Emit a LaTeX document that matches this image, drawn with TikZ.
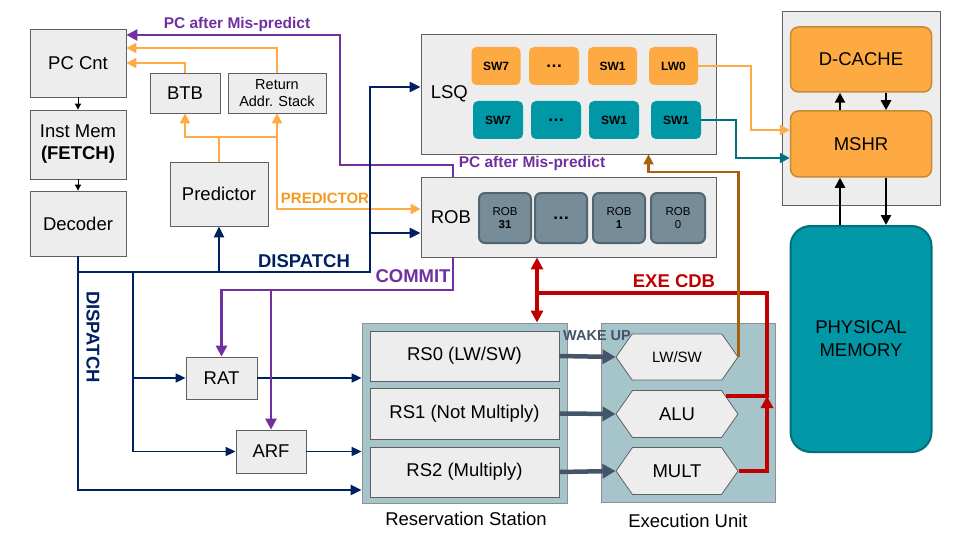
\documentclass[tikz,border=0pt]{standalone}
\usepackage{fontspec}
\setmainfont{Liberation Sans}
\usepackage{xcolor}
\usetikzlibrary{arrows.meta,positioning,calc,shapes.symbols}

\definecolor{boxgray}{HTML}{EDEDED}
\definecolor{edgegray}{HTML}{606060}
\definecolor{navy}{HTML}{002060}
\definecolor{mispurple}{HTML}{7030A0}
\definecolor{predorange}{HTML}{FFAA44}
\definecolor{predtext}{HTML}{F39A1E}
\definecolor{cdbred}{HTML}{C00000}
\definecolor{ldbrown}{HTML}{A8620F}
\definecolor{qorange}{HTML}{FDAA42}
\definecolor{qteal}{HTML}{0097A7}
\definecolor{tealline}{HTML}{00727E}
\definecolor{robslate}{HTML}{768C98}
\definecolor{robedge}{HTML}{536570}
\definecolor{unitbg}{HTML}{A5C5CB}
\definecolor{wakegray}{HTML}{44546A}
\definecolor{memedge}{HTML}{C88A35}
\definecolor{pmemedge}{HTML}{00707B}

\begin{document}
\begin{tikzpicture}[
  x=1pt, y=-1pt,
  font=\fontsize{18.5}{22}\selectfont,
  sz/.style 2 args={minimum width=#1pt, minimum height=#2pt, inner sep=0pt},
  box/.style={draw=edgegray, fill=boxgray, line width=0.8pt, align=center},
  unit/.style={draw=edgegray!70, fill=unitbg, line width=0.8pt},
  entry/.style={rounded corners=5pt, fill=#1, font=\fontsize{12}{14}\selectfont\bfseries},
  robent/.style={rounded corners=6pt, draw=robedge, fill=robslate, line width=2pt,
                 align=center, font=\fontsize{11.5}{13.5}\selectfont},
  mem/.style={rounded corners=8pt, draw=memedge, fill=qorange, line width=1.5pt},
  fu/.style={signal, signal to=east and west, signal pointer angle=110,
             draw=edgegray, fill=boxgray, line width=0.8pt},
  smallarr/.style={-{Triangle[length=6pt,width=6pt]}, line width=0.9pt},
  nvarr/.style={draw=navy, line width=2.6pt, -{Triangle[length=11pt,width=10pt]}},
  nvthin/.style={draw=navy, line width=1.7pt, -{Triangle[length=10pt,width=9pt]}},
  predarr/.style={draw=predorange, line width=2.2pt, -{Triangle[length=10pt,width=10pt]}},
  mparr/.style={draw=mispurple, line width=2.6pt, -{Triangle[length=11pt,width=11pt]}},
  cdbarr/.style={draw=cdbred, line width=3.2pt},
  ldarr/.style={draw=ldbrown, line width=2.2pt, -{Triangle[length=10pt,width=10pt]}},
  tlarr/.style={draw=tealline, line width=2.4pt, -{Triangle[length=10pt,width=10pt]}},
  wkarr/.style={draw=wakegray, line width=4.5pt, -{Triangle[length=13pt,width=14pt]}},
  memarr/.style={draw=black, line width=2.8pt, -{Triangle[length=10pt,width=10pt]}},
  lab/.style={font=\fontsize{15.5}{18}\selectfont\bfseries}
]
\useasboundingbox (0,0) rectangle (960,540);

% Front end
\node[box, sz={96}{68}] (pc) at (78,63) {PC Cnt};
\node[box, sz={96}{69}] (imem) at (78,144.5) {Inst Mem\\\textbf{(FETCH)}};
\node[box, sz={96}{65}] (dec) at (78,223.5) {Decoder};
\node[box, sz={70}{40}] (btb) at (185,93) {BTB};
\node[box, sz={98}{40}, font=\fontsize{14.5}{17.5}\selectfont] (ras) at (277,93) {Return\\Addr. Stack};
\node[box, sz={98}{64}] (pred) at (219,194) {Predictor};

% LSQ
\node[box, sz={295}{120}] (lsq) at (568.5,94) {};
\node[right=10pt of lsq.west, inner sep=0pt] (lsqlab) {LSQ};
\node[entry=qorange, sz={49}{38}] (lq1) at (496,66) {SW7};
\node[entry=qorange, sz={50}{38}] (lq2) at (554,66) {\fontsize{17}{17}\selectfont\dots};
\node[entry=qorange, sz={49}{38}] (lq3) at (612.5,66) {SW1};
\node[entry=qorange, sz={49}{38}] (lq4) at (673.5,66) {LW0};
\node[entry=qteal, sz={50}{38}] (sq1) at (498,120) {SW7};
\node[entry=qteal, sz={50}{38}] (sq2) at (556,120) {\fontsize{17}{17}\selectfont\dots};
\node[entry=qteal, sz={50}{38}] (sq3) at (614,120) {SW1};
\node[entry=qteal, sz={50}{38}] (sq4) at (676,120) {SW1};

% ROB
\node[box, sz={295}{80}] (rob) at (568.5,217) {};
\node[right=10pt of rob.west, inner sep=0pt] (roblab) {ROB};
\node[robent, sz={52}{50}] (re1) at (505,218) {ROB\\\textbf{31}};
\node[robent, sz={52}{50}, font=\fontsize{17}{17}\selectfont\bfseries] (re2) at (561,218) {\dots};
\node[robent, sz={52}{50}] (re3) at (619,218) {ROB\\\textbf{1}};
\node[robent, sz={54}{50}] (re4) at (678,218) {ROB\\0};

% Memory
\node[box, sz={158}{194}] (membox) at (861,108) {};
\node[mem, sz={141}{65}] (dcache) at (861,59.5) {D-CACHE};
\node[mem, sz={141}{66}] (mshr) at (861,144) {MSHR};
\node[sz={141}{226}, rounded corners=20pt, draw=pmemedge, fill=qteal, line width=2pt,
      align=center, font=\fontsize{18.5}{23}\selectfont] (pmem) at (861,339) {PHYSICAL\\MEMORY};

% Rename / register file
\node[box, sz={71}{42}] (rat) at (221.5,378) {RAT};
\node[box, sz={70}{43}] (arf) at (271,451.5) {ARF};

% Reservation station + execution
\node[unit, sz={205}{180}] (rs) at (464.5,413) {};
\node[box, sz={189}{50}] (rs0) at (464.5,356) {RS0 (LW/SW)};
\node[box, sz={189}{51}] (rs1) at (464.5,413.5) {RS1 (Not Multiply)};
\node[box, sz={189}{50}] (rs2) at (464.5,472) {RS2 (Multiply)};
\node (rslab) at (466,519) {Reservation Station};
\node[unit, sz={174}{179}] (eu) at (688,412.5) {};
\node[fu, sz={122}{46}, font=\fontsize{15}{18}\selectfont] (lwsw) at (677,357) {LW/SW};
\node[fu, sz={122}{47}] (alu) at (677,414) {ALU};
\node[fu, sz={122}{47}] (mult) at (677,471) {MULT};
\node (eulab) at (688,521) {Execution Unit};

% Labels
\node[lab, text=mispurple] (mplab1) at (237,24) {PC after Mis-predict};
\node[lab, text=mispurple] (mplab2) at (532,163) {PC after Mis-predict};
\node[lab, text=predtext, font=\fontsize{15}{18}\selectfont\bfseries] (predlab) at (325,198) {PREDICTOR};
\node[lab, text=navy, font=\fontsize{18.5}{22}\selectfont\bfseries] (dsplab) at (304,261) {DISPATCH};
\node[lab, text=navy, font=\fontsize{18.5}{22}\selectfont\bfseries, rotate=-90] (dsplab2) at (93,337) {DISPATCH};
\node[lab, text=mispurple, font=\fontsize{18.5}{22}\selectfont\bfseries] (commitlab) at (413,276) {COMMIT};
\node[lab, text=cdbred, font=\fontsize{18.5}{22}\selectfont\bfseries] (cdblab) at (674,281) {EXE CDB};
\node[lab, text=wakegray, font=\fontsize{14.5}{17}\selectfont\bfseries] (wakelab) at (597,336) {WAKE UP};

% Fetch path
\draw[smallarr] (pc) -- (imem);
\draw[smallarr] (imem) -- (dec);

% Branch prediction
\coordinate (pj) at (219,137);
\draw[predarr, -] (pred.north) -- (pj);
\draw[predarr] (pj) -| (btb.south);
\draw[predarr] (pj) -| (ras.south);
\draw[predarr] (ras.south |- pj) |- ([yshift=8pt]rob.west);
\draw[predarr] (btb.north) |- (pc.east);
\draw[predarr] (ras.north) |- ([yshift=15pt]pc.east);

% Mis-predict
\coordinate (mpj) at (340,165);
\draw[mparr] ([xshift=-115.5pt]rob.north) |- (mpj) |- ([yshift=28pt]pc.east);

% Dispatch
\coordinate (dbus) at (370,272);
\coordinate (rj) at (133,272);
\draw[nvarr] (dec.south) |- (dbus) |- ([yshift=7pt]lsq.west);
\draw[nvarr] (dbus |- 0,233) -- (rob.west |- 0,233);
\draw[nvarr] (pred.south |- dbus) -- (pred.south);
\draw[nvarr] (dec.south) |- (rs.west |- 0,490);
\draw[nvthin] (rj) |- (arf.west);
\draw[nvthin] (rj |- rat.west) -- (rat.west);
\draw[nvthin] (rat.east) -- (rs.west |- rat.east);
\draw[nvthin] (arf.east) -- (rs.west |- arf.east);

% Commit
\draw[mparr] ([xshift=-115.5pt]rob.south) |- (rat.north |- 0,290) -- (rat.north);
\draw[mparr] (arf.north |- 0,290) -- (arf.north);

% Wake up
\foreach \r/\f in {rs0/lwsw, rs1/alu, rs2/mult} {
  \draw[wkarr] (\r.east) -- (\f.west);
}

% CDB
\coordinate (cdb) at (537,293);
\coordinate (cdbr) at (767,396);
\draw[cdbarr, {Triangle[length=12pt,width=12pt]}-{Triangle[length=12pt,width=12pt]}]
  (cdb |- rob.south) -- (cdb |- rs.north);
\draw[cdbarr] (cdb) -| (cdbr) -- ([xshift=-13pt,yshift=18pt]alu.east);
\draw[cdbarr, -{Triangle[length=12pt,width=12pt]}] (mult.east) -| (cdbr);

% Load result back to LSQ
\draw[ldarr] (lwsw.east) |- ($(lsq.south)+(80,18)$) -- ([xshift=80pt]lsq.south);

% LSQ to memory
\draw[predarr] (lq4.east) -| ($(mshr.west)+(-39,-14)$) -- ([yshift=14pt]mshr.west);
\draw[tlarr] (sq4.east) -| ($(mshr.west)+(-54,14)$) -- ([yshift=-14pt]mshr.west);

% Memory hierarchy
\draw[memarr] ([xshift=-21pt]mshr.north) -- ([xshift=-21pt]dcache.south);
\draw[memarr] ([xshift=25pt]dcache.south) -- ([xshift=25pt]mshr.north);
\draw[memarr] ([xshift=-21pt]pmem.north) -- ([xshift=-21pt]mshr.south);
\draw[memarr] ([xshift=25pt]mshr.south) -- ([xshift=25pt]pmem.north);
\end{tikzpicture}
\end{document}
